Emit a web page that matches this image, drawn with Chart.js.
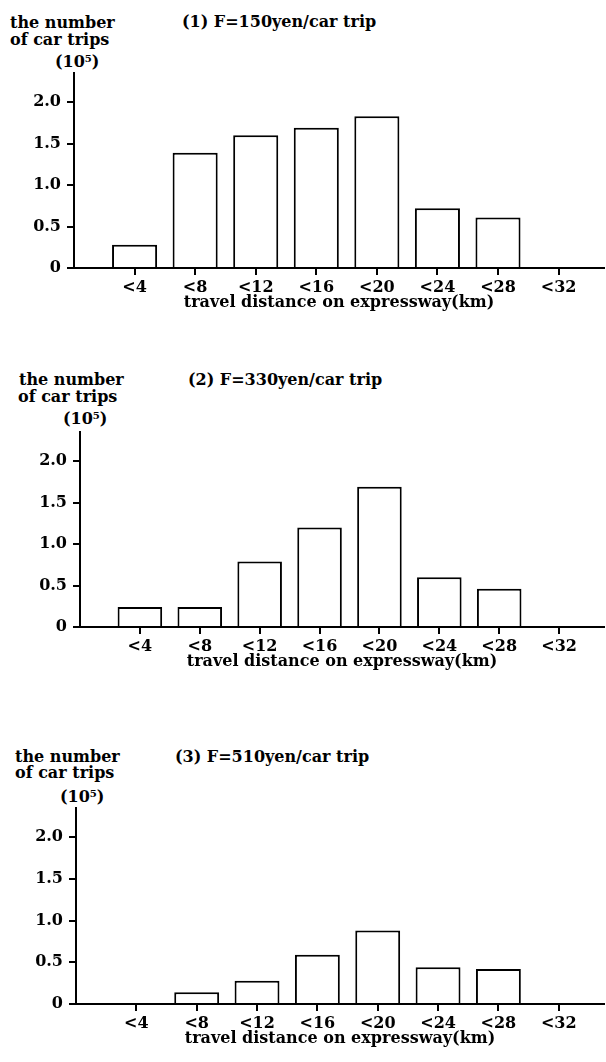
<!DOCTYPE html>
<html>
<head>
<meta charset="utf-8">
<script src="https://cdn.jsdelivr.net/npm/chart.js@4/dist/chart.umd.min.js"></script>
<style>
body { margin: 0; background: #fff; width: 606px; height: 1062px; position: relative; overflow: hidden;
  font-family: "DejaVu Serif", serif; font-weight: bold; font-size: 16px; color: #000; }
.lbl { position: absolute; line-height: 16px; white-space: pre; }
.box { position: absolute; left: 0; width: 606px; }
</style>
</head>
<body>

<div class="lbl" style="left:10px;top:15px">the number</div>
<div class="lbl" style="left:10px;top:32px">of car trips</div>
<div class="lbl" style="left:55px;top:54px">(10⁵)</div>
<div class="lbl" style="left:182px;top:14px">(1) F=150yen/car trip</div>
<div class="box" style="top:0px"><canvas id="c1" width="606" height="312"></canvas></div>

<div class="lbl" style="left:19px;top:372px">the number</div>
<div class="lbl" style="left:18px;top:389px">of car trips</div>
<div class="lbl" style="left:63px;top:411px">(10⁵)</div>
<div class="lbl" style="left:188px;top:372px">(2) F=330yen/car trip</div>
<div class="box" style="top:360px"><canvas id="c2" width="606" height="311"></canvas></div>

<div class="lbl" style="left:15px;top:749px">the number</div>
<div class="lbl" style="left:15px;top:765px">of car trips</div>
<div class="lbl" style="left:60px;top:789px">(10⁵)</div>
<div class="lbl" style="left:175px;top:749px">(3) F=510yen/car trip</div>
<div class="box" style="top:735px"><canvas id="c3" width="606" height="313"></canvas></div>

<script>
// distancias (km) de cada clase "<d"
const distances = [4, 8, 12, 16, 20, 24, 28, 32];
// número de viajes (10^5) para cada tarifa
const trips150 = [0.28, 1.39, 1.60, 1.69, 1.83, 0.72, 0.61, 0];
const trips330 = [0.24, 0.24, 0.79, 1.20, 1.69, 0.60, 0.46, 0];
const trips510 = [0, 0.14, 0.28, 0.59, 0.88, 0.44, 0.42, 0];
const yTicks = [0, 0.5, 1.0, 1.5, 2.0];
const xTitle = 'travel distance on expressway(km)';

const font = { family: 'DejaVu Serif', weight: 'bold', size: 16 };

const panels = [
  { id: 'c1', left: 74, top: 73, values: trips150 },
  { id: 'c2', left: 80, top: 72, values: trips330 },
  { id: 'c3', left: 76, top: 73, values: trips510 },
];

panels.forEach(p => {
  const ctx = document.getElementById(p.id).getContext('2d');
  new Chart(ctx, {
    type: 'bar',
    data: {
      datasets: [{
        data: distances.map((d, i) => ({ x: d, y: p.values[i] })),
        backgroundColor: '#fff',
        borderColor: '#000',
        borderWidth: 2,
        barPercentage: 0.93,
        categoryPercentage: 0.8,
      }],
    },
    options: {
      responsive: false,
      animation: false,
      layout: { padding: { top: p.top, left: 0, right: 2, bottom: 0 } },
      plugins: { legend: { display: false }, tooltip: { enabled: false } },
      scales: {
        x: {
          type: 'linear',
          min: 0,
          max: 35,
          offset: false,
          afterBuildTicks: s => { s.ticks = distances.map(d => ({ value: d })); },
          afterFit: s => { s.height = 44; },
          border: { display: true, color: '#000', width: 2 },
          grid: { display: true, offset: false, drawOnChartArea: false, drawTicks: true, tickLength: 7, color: '#000', lineWidth: 2 },
          ticks: { color: '#000', font: font, padding: 3, maxRotation: 0, autoSkip: false,
                   callback: v => '<' + v },
          title: { display: true, text: xTitle, color: '#000', font: font, padding: { top: 0, bottom: 0 } },
        },
        y: {
          min: 0,
          max: 2.35,
          afterBuildTicks: s => { s.ticks = yTicks.map(v => ({ value: v })); },
          afterFit: s => { s.width = p.left; },
          border: { display: true, color: '#000', width: 2 },
          grid: { drawOnChartArea: false, drawTicks: true, tickLength: 7, color: '#000', lineWidth: 2 },
          ticks: { color: '#000', font: font, padding: 6,
                   callback: v => v === 0 ? '0' : v.toFixed(1) },
        },
      },
    },
  });
});
</script>
</body>
</html>
